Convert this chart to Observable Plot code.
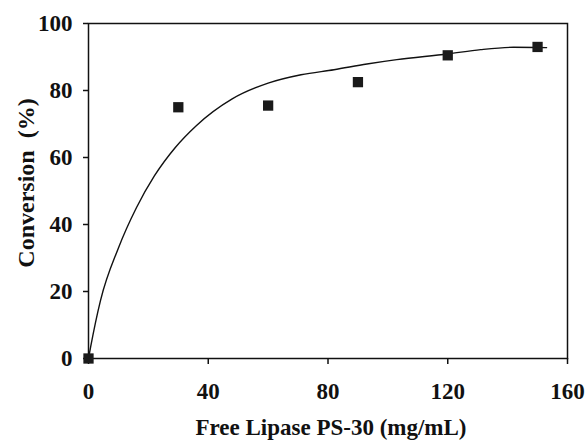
<!DOCTYPE html>
<html>
<head>
<meta charset="utf-8">
<script src="https://cdn.jsdelivr.net/npm/d3@7"></script>
<script src="https://cdn.jsdelivr.net/npm/@observablehq/plot@0.6"></script>
<style>
  html, body { margin: 0; padding: 0; background: #fff; }
  #chart svg { display: block; }
</style>
</head>
<body>
<div id="chart"></div>
<script>
// Measured points
const lipase = [0, 30, 60, 90, 120, 150];
const conversion = [0, 75, 75.5, 82.5, 90.5, 93];

// Fitted curve
const curveX = [0, 0.7, 4, 10, 16, 22, 29, 36, 48, 60, 71, 82, 93, 103, 120, 131, 142, 153];
const curveY = [0, 3.4, 17.3, 33, 45, 54.5, 63, 69.5, 77.5, 82.2, 84.7, 86.2, 87.9, 89.2, 90.9, 92.2, 92.9, 92.8];

const xTicks = [0, 40, 80, 120, 160];
const yTicks = [0, 20, 40, 60, 80, 100];
const xTitle = ["Free Lipase PS-30 (mg/mL)"];
const yTitle = ["Conversion  (%)"];

const points = lipase.map((x, i) => ({x, y: conversion[i]}));
const curve = curveX.map((x, i) => ({x, y: curveY[i]}));

const font = "'Liberation Serif', 'Times New Roman', serif";

const chart = Plot.plot({
  width: 586,
  height: 444,
  marginLeft: 88,
  marginRight: 19,
  marginTop: 23,
  marginBottom: 86,
  style: {fontFamily: font, fontWeight: "bold", fontSize: "23px", color: "#111", background: "#fff"},
  x: {domain: [0, 160]},
  y: {domain: [0, 100]},
  marks: [
    Plot.frame({stroke: "#111", strokeWidth: 1.5}),
    Plot.axisX({ticks: xTicks, tickSize: 6, tickPadding: 18, tickFormat: d => d, fontSize: 23,
      label: null, strokeWidth: 1.5}),
    Plot.axisY({ticks: yTicks, tickSize: 5, tickPadding: 11, tickFormat: d => d, fontSize: 23,
      label: null, strokeWidth: 1.5}),
    Plot.text(xTitle, {text: d => d, frameAnchor: "bottom", textAnchor: "middle", lineAnchor: "middle", dy: 69, dx: 3,
      fontSize: 23, fontWeight: "bold", fill: "#111"}),
    Plot.text(yTitle, {text: d => d, frameAnchor: "left", textAnchor: "middle", lineAnchor: "middle", rotate: -90, dx: -62, dy: -8,
      fontSize: 24, fontWeight: "bold", fill: "#111"}),
    Plot.line(curve, {x: "x", y: "y", curve: "monotone-x", stroke: "#111", strokeWidth: 1.4}),
    Plot.dot(points, {x: "x", y: "y", symbol: "square", r: 5.8, fill: "#1a1a1a", stroke: "none"})
  ]
});
document.getElementById("chart").append(chart);
</script>
</body>
</html>
